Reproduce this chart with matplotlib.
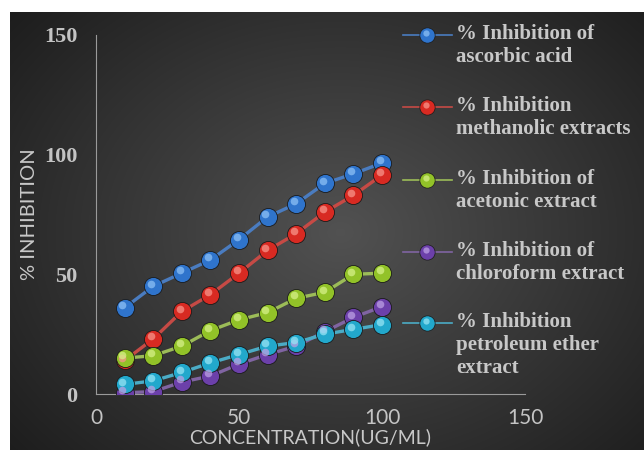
import numpy as np
import matplotlib
matplotlib.use("Agg")
import matplotlib.pyplot as plt
from matplotlib.lines import Line2D
from matplotlib.transforms import ScaledTranslation

concentration = [10, 20, 30, 40, 50, 60, 70, 80, 90, 100]

ascorbic = [36, 45, 50.5, 56, 64.5, 74, 79.5, 88, 92, 96.5]
methanolic = [14, 23, 34.5, 41.5, 50.5, 60, 67, 76, 83, 91.5]
acetonic = [15, 16, 20, 26.5, 31, 34, 40, 42.5, 50, 50.5]
chloroform = [0.5, 1, 5, 7.5, 12.5, 16.5, 20, 26, 32, 36.5]
petroleum = [4, 5.5, 9, 13, 16.5, 20, 21.5, 25, 27, 29]

series_labels = [
    "% Inhibition of\nascorbic acid",
    "% Inhibition\nmethanolic extracts",
    "% Inhibition of\nacetonic extract",
    "% Inhibition of\nchloroform extract",
    "% Inhibition\npetroleum ether\nextract",
]
series_values = [ascorbic, methanolic, acetonic, chloroform, petroleum]

# marker face, highlight, line colour
palette = [
    ("#2f74cc", "#8cc0f5", "#4a7cc0"),
    ("#d82a22", "#f7948a", "#c64a45"),
    ("#92c228", "#d6f088", "#9cbc58"),
    ("#6c40aa", "#bca0e4", "#8064a2"),
    ("#22a8cc", "#96e4f4", "#4bacc6"),
]

fig = plt.figure(figsize=(6.44, 4.5), dpi=100)
fig.patch.set_facecolor("white")

# dark radial background panel
bg = fig.add_axes([10 / 644, 0, 634 / 644, 438 / 450])
bg.set_axis_off()
yy, xx = np.mgrid[0:438, 0:634]
r = np.sqrt(((xx - 330) / 420.0) ** 2 + ((yy - 220) / 330.0) ** 2)
shade = np.clip(0.32 - 0.2 * r, 0.09, 0.32)
bg.imshow(np.dstack([shade] * 3), aspect="auto", interpolation="bilinear")

ax = fig.add_axes([96 / 644, 56 / 450, 429 / 644, 359 / 450])
ax.patch.set_alpha(0)
ax.set_xlim(0, 150)
ax.set_ylim(0, 150)
ax.set_xticks([0, 50, 100, 150])
ax.set_yticks([0, 50, 100, 150])
ax.tick_params(length=0)
for lab in ax.get_yticklabels():
    lab.set_fontfamily("Liberation Serif")
    lab.set_fontweight("bold")
    lab.set_fontsize(16)
    lab.set_color("#c4c4c4")
for lab in ax.get_xticklabels():
    lab.set_fontfamily("Lato")
    lab.set_fontsize(15)
    lab.set_color("#c4c4c4")
ax.tick_params(axis="y", pad=13.5)
ax.tick_params(axis="x", pad=10)
for side in ["top", "right"]:
    ax.spines[side].set_visible(False)
for side in ["left", "bottom"]:
    ax.spines[side].set_color("#9a9a9a")
    ax.spines[side].set_linewidth(0.8)

ax.set_xlabel("CONCENTRATION(UG/ML)", fontfamily="Lato", fontsize=14,
              color="#c8c8c8", labelpad=0.5)
ax.set_ylabel("% INHIBITION", fontfamily="Lato", fontsize=14.5,
              color="#c8c8c8", labelpad=4)

shift = ScaledTranslation(-1.6 / 72, 2.0 / 72, fig.dpi_scale_trans)
for vals, (face, hi, lc) in zip(series_values, palette):
    ax.plot(concentration, vals, color=lc, lw=2.4, zorder=2)
    ax.plot(concentration, vals, ls="none", marker="o", ms=13,
            mfc=face, mec="#1a1a1a", mew=0.6, zorder=3)
    ax.plot(concentration, vals, ls="none", marker="o", ms=5.5,
            mfc=hi, mec="none", alpha=0.75, zorder=4,
            transform=ax.transData + shift)

# legend drawn by hand so each marker sits beside the first text line
legend_rows = [35, 107, 180, 252, 323]
for (face, hi, lc), label, ypx in zip(palette, series_labels, legend_rows):
    yf = 1 - ypx / 450
    fig.add_artist(Line2D([403 / 644, 452 / 644], [yf, yf], color=lc, lw=1.2))
    fig.add_artist(Line2D([427 / 644], [yf], ls="none", marker="o", ms=11,
                          mfc=face, mec="#1a1a1a", mew=0.5))
    fig.add_artist(Line2D([426 / 644], [yf + 2 / 450], ls="none", marker="o",
                          ms=4.5, mfc=hi, mec="none", alpha=0.75))
    fig.text(456 / 644, yf + 11 / 450, label, fontfamily="Liberation Serif",
             fontweight="bold", fontsize=15, color="#c8c8c8", va="top",
             ha="left", linespacing=1.2)

fig.savefig("out.png", dpi=100)
